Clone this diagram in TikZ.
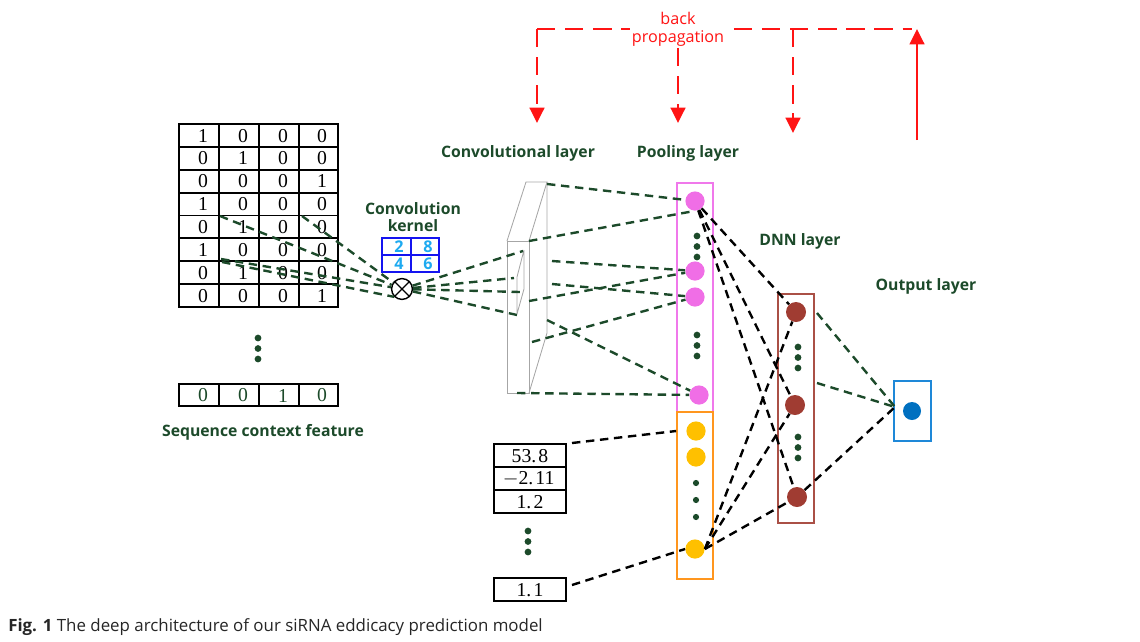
\documentclass[tikz,border=0pt]{standalone}
\usepackage{fontspec}
\setmainfont{Liberation Serif}
\newfontfamily\labfont{Open Sans}
\usetikzlibrary{arrows.meta}
\definecolor{dg}{RGB}{28,74,42}
\definecolor{pinkb}{RGB}{240,120,235}
\definecolor{pinkn}{RGB}{240,110,230}
\definecolor{orangeb}{RGB}{255,150,30}
\definecolor{yel}{RGB}{255,192,0}
\definecolor{brownb}{RGB}{170,80,70}
\definecolor{brownn}{RGB}{160,60,50}
\definecolor{blueb}{RGB}{30,136,216}
\definecolor{bluen}{RGB}{0,112,192}
\definecolor{kblue}{RGB}{20,20,240}
\definecolor{kcyan}{RGB}{30,170,240}
\definecolor{bpred}{RGB}{255,20,20}
\begin{document}
\begin{tikzpicture}[x=0.025cm,y=-0.025cm,
  dgdash/.style={draw=dg,line width=1.7pt,dash pattern=on 6pt off 4pt},
  bkdash/.style={draw=black,line width=1.7pt,dash pattern=on 6pt off 4pt},
  reddash/.style={draw=bpred,line width=1.8pt,dash pattern=on 13pt off 7pt},
  lab/.style={font=\labfont\bfseries\fontsize{11.2}{13}\selectfont,text=dg,inner sep=0pt},
  cell/.style={font=\fontsize{14}{14}\selectfont,inner sep=0pt},
  kcell/.style={font=\labfont\bfseries\fontsize{11.5}{11.5}\selectfont,text=kcyan,inner sep=0pt},
  vdot/.style={circle,fill=dg,inner sep=0pt,minimum size=4.8pt},
  pnode/.style={circle,fill=pinkn,inner sep=0pt,minimum size=0.48cm},
  ynode/.style={circle,fill=yel,inner sep=0pt,minimum size=0.48cm},
  dnode/.style={circle,fill=brownn,inner sep=0pt,minimum size=0.5cm},
  slab/.style={draw=gray!70,line width=0.6pt},
  grid/.style={line width=1.3pt},
  tip/.style={-{Triangle[length=11pt,width=10.5pt]}}]
\useasboundingbox (0,0) rectangle (1140,641);

% ---------- one-hot matrix ----------
\draw[grid] (179,124) rectangle (338,307);
\foreach \k in {1,...,7} \draw[grid] (179,{124+22.875*\k}) -- (338,{124+22.875*\k});
\foreach \xx in {219,259,299} \draw[grid] (\xx,124) -- (\xx,307);
\foreach \a/\b/\c/\d [count=\i from 0] in {1/0/0/0,0/1/0/0,0/0/0/1,1/0/0/0,0/1/0/0,1/0/0/0,0/1/0/0,0/0/0/1}{
  \node[cell] (m\i a) at (203,{124+22.875*\i+11.6}) {\a};
  \node[cell] (m\i b) at (243,{124+22.875*\i+11.6}) {\b};
  \node[cell] (m\i c) at (283,{124+22.875*\i+11.6}) {\c};
  \node[cell] (m\i d) at (322,{124+22.875*\i+11.6}) {\d};
}
\node[vdot] (sd1) at (258,338) {};
\node[vdot] (sd2) at (258,348.5) {};
\node[vdot] (sd3) at (258,359) {};
\draw[grid] (179,384) rectangle (338,406);
\foreach \xx in {219,259,299} \draw[grid] (\xx,384) -- (\xx,406);
\node[cell,text=dg] (bra) at (203,395.5) {0};
\node[cell,text=dg] (brb) at (243,395.5) {0};
\node[cell,text=dg] (brc) at (283,395.5) {1};
\node[cell,text=dg] (brd) at (322,395.5) {0};
\node[lab] (seqlab) at (263,432) {Sequence context feature};

% ---------- convolution kernel ----------
\node[lab,align=center] (kerlab) at (413,217) {Convolution\\[-1pt]kernel};
\draw[kblue,line width=1.2pt] (382,238) rectangle (439,272);
\draw[kblue,line width=1.2pt] (411,238) -- (411,272) (382,255) -- (439,255);
\node[kcell] (k1) at (399,247) {2};
\node[kcell] (k2) at (428,247) {8};
\node[kcell] (k3) at (399,264) {4};
\node[kcell] (k4) at (428,264) {6};

\node[circle,draw,line width=1pt,minimum size=0.52cm,inner sep=0pt] (ot) at (402,289) {};
\draw[line width=0.9pt] (ot.north west) -- (ot.south east) (ot.north east) -- (ot.south west);

\coordinate (w1) at (220,216);
\coordinate (w2) at (302,216);
\coordinate (w3) at (221,259);
\coordinate (w4) at (222,262);
\foreach \w in {w1,w2,w3} \draw[dgdash] (\w) -- (ot);
\draw[dgdash] (w4) -- (ot.south west);

% ---------- convolutional slab ----------
\draw[slab] (507,241) rectangle (529,393);
\draw[slab] (507,241) -- (526,182) -- (547,182) -- (529,241);
\draw[slab] (547,182) -- (547,333) -- (529,393);
\draw[slab] (517,277) -- (517,314) (524,250) -- (524,289)
            (517,277) -- (524,250) (517,314) -- (524,289);
\coordinate (c1) at (523,251);
\coordinate (c2) at (514,278);
\coordinate (c3) at (520,292);
\coordinate (c4) at (517,315);
\foreach \c in {c1,c2,c3,c4} \draw[dgdash] (ot) -- (\c);

\node[lab] (convlab) at (518,153) {Convolutional layer};

% ---------- pooling layer ----------
\node[draw=pinkb,line width=1.2pt,minimum width=0.9cm,minimum height=5.73cm,inner sep=0pt] (pbox) at (695,297.5) {};
\node[draw=orangeb,line width=1.2pt,minimum width=0.9cm,minimum height=4.18cm,inner sep=0pt] (ybox) at (695,495.5) {};
\node[pnode] (p1) at (695,201) {};
\node[pnode] (p2) at (695,271) {};
\node[pnode] (p3) at (695,297) {};
\node[pnode] (p4) at (699,395) {};
\foreach \yy [count=\j] in {236,246.5,257} \node[vdot] (pd\j) at (697,\yy) {};
\foreach \yy [count=\j] in {335,345.5,356} \node[vdot] (pe\j) at (697,\yy) {};
\node[ynode] (y1) at (696,431) {};
\node[ynode] (y2) at (696,457) {};
\node[ynode] (y3) at (695,549) {};
\foreach \yy [count=\j] in {483,500,517} \node[vdot,minimum size=4.4pt] (yd\j) at (696,\yy) {};
\node[lab] (poollab) at (688,153) {Pooling layer};

\coordinate (s1) at (547,184);
\coordinate (s2) at (529,241);
\coordinate (s3) at (552,261);
\coordinate (s4) at (552,284);
\coordinate (s5) at (529,301);
\coordinate (s6) at (532,342);
\coordinate (s7) at (547,320);
\coordinate (s8) at (517,393);
\draw[dgdash] (s1) -- (p1);
\draw[dgdash] (s2) -- (p1.south);
\draw[dgdash] (s3) -- (p2);
\draw[dgdash] (s4) -- (p3);
\draw[dgdash] (s5) -- (p2);
\draw[dgdash] (s6) -- (p3);
\draw[dgdash] (s7) -- (p4);
\draw[dgdash] (s8) -- (p4);

% ---------- numeric features ----------
\draw[grid] (494,444) rectangle (566,513);
\draw[grid] (494,467) -- (566,467) (494,490) -- (566,490);
\node[cell] (n1) at (530,456) {53.\kern1.5pt8};
\node[cell] (n2) at (530,479) {\kern-2pt$-$2.\kern1.5pt11};
\node[cell] (n3) at (530,502) {1.\kern1.5pt2};
\foreach \yy [count=\j] in {531,541.5,552} \node[vdot] (nd\j) at (528,\yy) {};
\draw[grid] (494,578) rectangle (566,601);
\node[cell] (n4) at (530,590) {1.\kern1.5pt1};
\coordinate (nt) at (572,443);
\coordinate (nb) at (572,585);
\draw[bkdash] (nt) -- (ybox.west |- y1);
\draw[bkdash] (nb) -- (y3.west);

% ---------- DNN layer ----------
\node[draw=brownb,line width=1.2pt,minimum width=0.9cm,minimum height=5.72cm,inner sep=0pt] (dbox) at (796,408.5) {};
\node[dnode] (d1) at (796,312) {};
\node[dnode] (d2) at (795,405) {};
\node[dnode] (d3) at (797,497) {};
\foreach \yy [count=\j] in {347,357.5,368} \node[vdot] (dd\j) at (798,\yy) {};
\foreach \yy [count=\j] in {437,447.5,458} \node[vdot] (de\j) at (798,\yy) {};
\node[lab] (dnnlab) at (800,241) {DNN layer};

\draw[bkdash] (p1) -- (d1);
\draw[bkdash] (p1) -- (d2);
\draw[bkdash] (p1) -- (d3);
\draw[bkdash] (y3.east) -- (d1);
\draw[bkdash] (y3.east) -- (d2);
\draw[bkdash] (y3.east) -- (d3);

% ---------- output ----------
\node[draw=blueb,line width=1.2pt,minimum width=0.93cm,minimum height=1.5cm,inner sep=0pt] (obox) at (912.5,411) {};
\node[circle,fill=bluen,inner sep=0pt,minimum size=0.45cm] (o) at (912,411) {};
\node[lab] (outlab) at (926,286) {Output layer};
\coordinate (d1r) at (817,313);
\coordinate (d2r) at (817,383);
\coordinate (oin) at (895,407);
\draw[dgdash] (d1r) -- (oin);
\draw[dgdash] (d2r) -- (oin);
\draw[bkdash] (d3) -- (oin);

% ---------- back propagation ----------
\coordinate (bl) at (537,29);
\coordinate (br) at (912,29);
\coordinate (bm) at (793,29);
\draw[reddash] (bl) -- (br);
\node[fill=white,inner sep=1pt,align=center,text=bpred,font=\labfont\fontsize{11.5}{12.5}\selectfont] (bptext) at (678,29) {back\\[0.5pt]propagation};
\coordinate (a1) at (537,123);
\coordinate (a2) at (678,123);
\coordinate (a3) at (793,133);
\coordinate (a4b) at (917,140);
\coordinate (a4t) at (917,29);
\draw[reddash,tip] (bl) -- (a1);
\draw[reddash,tip] (bptext.south) -- (a2);
\draw[reddash,tip] (bm) -- (a3);
\draw[draw=bpred,line width=1.8pt,tip] (a4b) -- (a4t);

% ---------- caption ----------
\node[anchor=west,inner sep=0pt,text=black!85,font=\labfont\fontsize{12}{14}\selectfont] (cap) at (8,627) {\textbf{Fig. 1} The deep architecture of our siRNA eddicacy prediction model};
\end{tikzpicture}
\end{document}
